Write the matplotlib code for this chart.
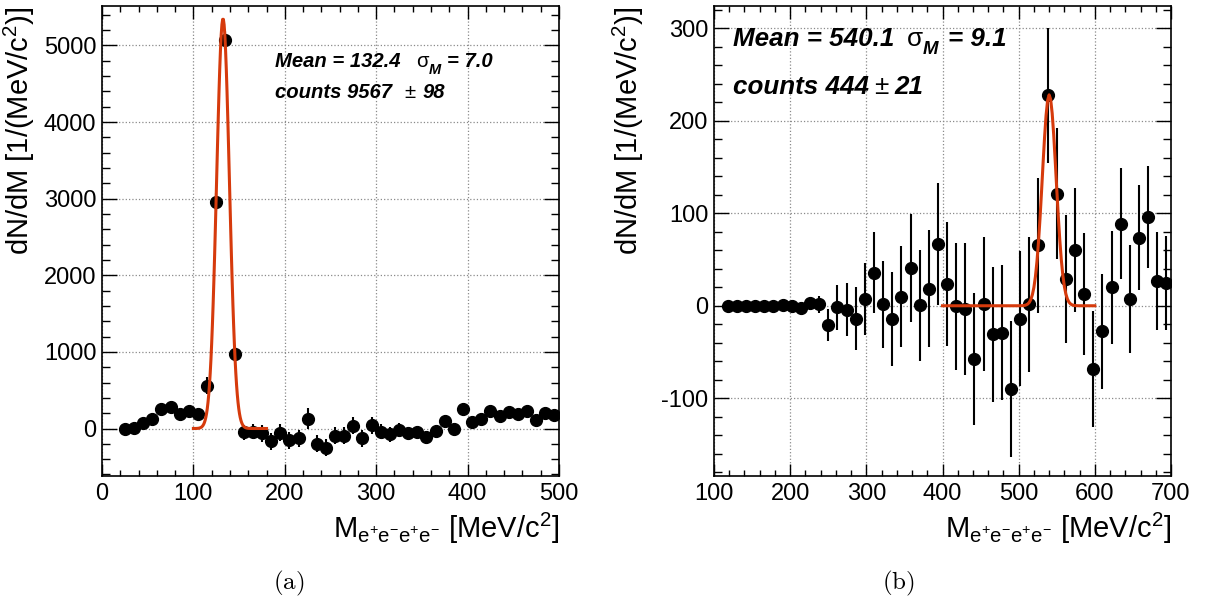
import numpy as np
import matplotlib
matplotlib.use("Agg")
import matplotlib.pyplot as plt
from matplotlib.ticker import MultipleLocator

plt.rcParams['font.family'] = ['Liberation Sans', 'DejaVu Sans']
plt.rcParams['mathtext.fontset'] = 'custom'
plt.rcParams['mathtext.rm'] = 'Liberation Sans'
plt.rcParams['mathtext.it'] = 'Liberation Sans:italic'
plt.rcParams['mathtext.bf'] = 'Liberation Sans:bold'
plt.rcParams['axes.unicode_minus'] = False

# (a) pi0 region, bins of 10 MeV
mass_a = np.arange(25, 500, 10)
counts_a = [0, 9, 74, 130, 257, 283, 187, 230, 187, 557, 2960, 5070, 970, -52, -43,
            -65, -165, -57, -152, -130, 130, -196, -248, -96, -96, 35, -130, 43, -43,
            -74, -22, -65, -52, -117, -35, 96, 0, 261, 87, 130, 230, 161, 209, 187,
            230, 117, 196, 174]
err_a = [40, 40, 45, 50, 55, 55, 60, 70, 70, 110, 120, 120, 100, 95, 100, 105, 110,
         110, 110, 110, 140, 110, 110, 110, 110, 110, 110, 110, 100, 100, 95, 90, 90,
         85, 70, 65, 60, 60, 55, 55, 55, 55, 55, 55, 55, 55, 55, 55]
fit_a = dict(mean=132.4, sigma=7.0, amp=5350, lo=100, hi=180)

# (b) eta region, bins of 12 MeV
mass_b = np.arange(118, 700, 12)
counts_b = [0, 0, 0, 0, 0, -0.7, 0.4, -0.4, -2.9, 2.9, 1.4, -20.6, -1.8, -4.3, -14,
            7.6, 35.7, 1.4, -14, 10, 40.8, 0.4, 18.4, 66.7, 23.8, -0.7, -3.6, -57.7,
            1.8, -30.7, -28.9, -90, -14, 1.8, 65.3, 227.3, 121.2, 28.9, 59.9, 13,
            -68.5, -27.8, 20.2, 88.7, 7.2, 73.6, 96, 27, 24.5]
err_b = [0, 0, 0, 0, 0, 1, 1, 1.5, 2, 6, 9.4, 17, 24, 28.5, 34, 39, 44, 47, 51, 55,
         58, 60, 63, 66, 67, 69, 71, 71, 72, 73, 73, 73, 73, 73, 73, 73, 71, 69, 67,
         66, 63, 62, 61, 60, 58, 57, 55, 53, 51]
fit_b = dict(mean=540.1, sigma=9.1, amp=228, lo=400, hi=600)

fit_color = '#d63a0c'


def gaus(p):
    xs = np.linspace(p['lo'], p['hi'], 101)
    return xs, p['amp'] * np.exp(-0.5 * ((xs - p['mean']) / p['sigma']) ** 2)


def annot(ax, x, y, pieces, size):
    # pieces: (text, weight, style, gap_pt, dy_pt, scale)
    first = None
    prev = None
    for s, w, st, gap, dy, sc in pieces:
        if first is None:
            t = ax.text(x, y, s, transform=ax.transAxes, fontsize=size * sc,
                        fontweight=w, fontstyle=st, va='bottom', ha='left')
            first = t
        else:
            t = ax.annotate(s, xy=(1, 0), xycoords=(prev, first), xytext=(gap, dy),
                            textcoords='offset points', fontsize=size * sc,
                            fontweight=w, fontstyle=st, va='bottom', ha='left')
        prev = t


fig = plt.figure(figsize=(12.08, 6.03), dpi=100)
ax1 = fig.add_axes([102 / 1208, 127 / 603, 457 / 1208, 470 / 603])
ax2 = fig.add_axes([714 / 1208, 127 / 603, 457 / 1208, 470 / 603])

for ax, x, y, e, p in [(ax1, mass_a, counts_a, err_a, fit_a),
                       (ax2, mass_b, counts_b, err_b, fit_b)]:
    ax.errorbar(x, y, yerr=e, fmt='o', color='black', ms=8.5, elinewidth=1.5,
                capsize=0, zorder=3)
    fx, fy = gaus(p)
    ax.plot(fx, fy, color=fit_color, lw=2.2, zorder=4)
    ax.set_axisbelow(True)
    ax.grid(True, which='major', linestyle=':', color='#8a8a8a', linewidth=0.9)
    ax.tick_params(which='both', direction='in', top=True, right=True, width=1.0)
    ax.tick_params(axis='y', which='major', length=11, labelsize=17, pad=4)
    ax.tick_params(axis='y', which='minor', length=5.5)
    ax.tick_params(axis='x', which='major', length=9, labelsize=17, pad=5)
    ax.tick_params(axis='x', which='minor', length=4.5)
    for sp in ax.spines.values():
        sp.set_linewidth(1.2)
    ax.xaxis.set_major_locator(MultipleLocator(100))
    ax.xaxis.set_minor_locator(MultipleLocator(20))
    ax.set_xlabel(r'M$_{\mathrm{e^{+}e^{-}e^{+}e^{-}}}$ [MeV/c$^{2}$]', fontsize=21,
                  loc='right')
    ax.set_ylabel(r'dN/dM [1/(MeV/c$^{2}$)]', fontsize=21, loc='top')
    ax.xaxis.set_label_coords(1.0, -0.075)

ax1.set_xlim(0, 500)
ax1.set_ylim(-620, 5515)
ax1.yaxis.set_major_locator(MultipleLocator(1000))
ax1.yaxis.set_minor_locator(MultipleLocator(200))
ax1.yaxis.set_label_coords(-0.143, 1.0)

ax2.set_xlim(100, 700)
ax2.set_ylim(-184, 324)
ax2.yaxis.set_major_locator(MultipleLocator(100))
ax2.yaxis.set_minor_locator(MultipleLocator(20))
ax2.yaxis.set_label_coords(-0.149, 1.0)

annot(ax1, 0.3786, 0.862, [
    ('Mean = 132.4', 'bold', 'italic', 0, 0, 1.0),
    ('\u03c3', 'normal', 'normal', 11, 0, 1.0),
    ('M', 'bold', 'italic', 0, -4.5, 0.72),
    ('= 7.0', 'bold', 'italic', 5, 0, 1.0)], 14.6)
annot(ax1, 0.3786, 0.795, [
    ('counts 9567', 'bold', 'italic', 0, 0, 1.0),
    ('\u00b1', 'normal', 'normal', 9, 0, 1.0),
    ('98', 'bold', 'italic', 5, 0, 1.0)], 14.6)

annot(ax2, 0.0416, 0.905, [
    ('Mean = 540.1', 'bold', 'italic', 0, 0, 1.0),
    ('\u03c3', 'normal', 'normal', 9, 0, 1.0),
    ('M', 'bold', 'italic', 0, -5.5, 0.72),
    ('= 9.1', 'bold', 'italic', 7, 0, 1.0)], 18.7)
annot(ax2, 0.0416, 0.803, [
    ('counts 444', 'bold', 'italic', 0, 0, 1.0),
    ('\u00b1', 'normal', 'normal', 4, 0, 1.0),
    ('21', 'bold', 'italic', 4, 0, 1.0)], 18.7)

fig.text(289 / 1208, 1 - 583 / 603, r'$\mathrm{(a)}$', ha='center', va='center',
         fontsize=18, math_fontfamily='cm')
fig.text(898 / 1208, 1 - 583 / 603, r'$\mathrm{(b)}$', ha='center', va='center',
         fontsize=18, math_fontfamily='cm')

fig.savefig('out.png', dpi=100)
